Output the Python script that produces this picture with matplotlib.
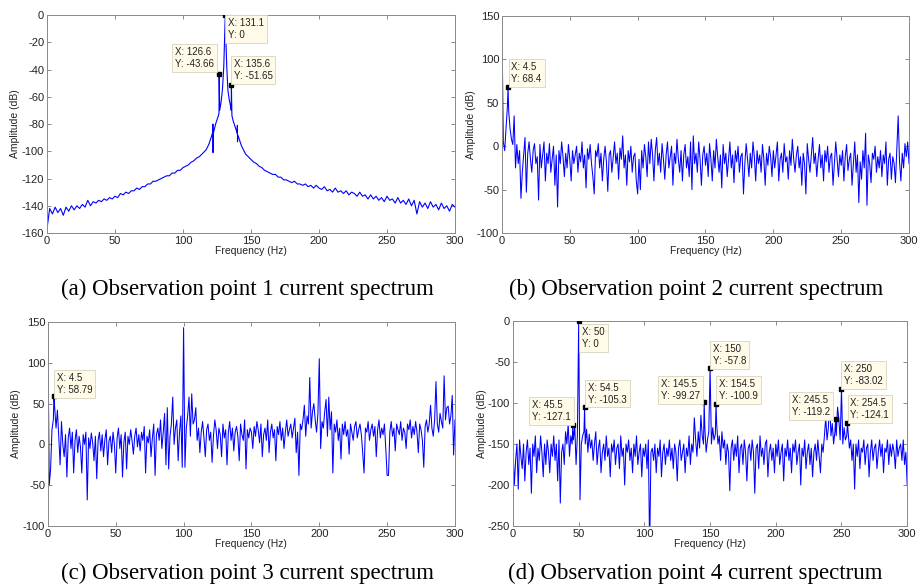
import matplotlib
matplotlib.use("Agg")
import matplotlib.pyplot as plt
import numpy as np

plt.rcParams["font.family"] = ["Liberation Sans", "DejaVu Sans"]
plt.rcParams["axes.unicode_minus"] = False

# ---------------- data ----------------
# (a) observation point 1
freq_a_low = np.arange(0, 117, 2)
amp_a_low = [
    -157, -142, -146, -141, -145, -142, -147, -141, -144, -140,
    -143, -140, -142, -139, -141, -136, -140, -137, -138, -136,
    -137, -135, -136, -134, -135, -133, -134, -131, -132, -130,
    -131, -129, -129, -127, -128, -126, -126, -124, -124, -122,
    -122, -121, -120, -119, -118, -118, -116, -116, -114, -114,
    -112, -111, -110, -108, -107, -105, -104, -102, -100,
]
freq_a_mid = [117, 118, 119, 120, 121, 121.9, 122, 122.1, 122.3, 123, 124, 125, 126,
              126.5, 127, 128, 129, 130, 130.5, 131.6, 132.2, 133, 134, 135, 135.5,
              136, 137, 138, 139, 139.9, 140, 140.1, 140.3, 141, 142, 143, 144]
amp_a_mid = [-99, -97, -95, -92, -89, -86, -80, -101, -87, -84, -80, -77, -74,
             -72, -70, -64, -55, -38, -20, -20, -38, -55, -62, -67, -70,
             -74, -78, -81, -84, -87, -81, -93, -88, -90, -93, -96, -98]
freq_a_high = np.arange(146, 301, 2)
amp_a_high = [
    -102, -104, -106, -108, -109, -111, -112, -114, -115, -116,
    -117, -117, -119, -119, -121, -121, -122, -123, -122, -124,
    -124, -125, -124, -126, -125, -127, -125, -127, -128, -126,
    -129, -128, -130, -127, -130, -129, -131, -129, -132, -130,
    -131, -133, -130, -133, -132, -135, -132, -135, -133, -136,
    -134, -137, -133, -136, -135, -138, -134, -138, -136, -139,
    -135, -140, -136, -146, -137, -141, -138, -142, -137, -141,
    -139, -143, -138, -142, -140, -144, -139, -141,
]
tip_a_f = [126.6, 131.1, 135.6]
tip_a_a = [-43.66, 0, -51.65]

# (b), (c), (d): 1 Hz base grid
freq_bcd = np.arange(0, 301, 1)
amp_b = [
    138, 5, -5, 20, 45, 40, 20, 8, 2, 35,
    -25, 2, -20, -5, -60, -30, -10, 10, -53, -8,
    5, -15, -30, -5, 3, -20, -12, -62, 2, -25,
    -10, 5, -40, -8, -20, 3, -30, -15, 0, -45,
    -10, -70, -5, -20, 5, -12, -35, -8, -25, 2,
    -15, -40, -5, -20, -10, 0, -30, -8, -18, 5,
    -25, -10, -48, -3, -15, 2, -20, -35, -55, -5,
    -12, 3, -25, -8, -40, -15, 0, -18, -52, -10,
    -5, -30, -12, 5, -20, -8, -38, -2, -15, 12,
    -25, -10, -45, -5, -18, 0, -30, -12, -8, -40,
    -55, -15, -50, -5, -25, 2, -12, -35, 5, -20,
    8, -10, -40, -5, 10, -22, -8, -30, 3, -15,
    -38, -10, 5, -25, -12, 0, -45, -8, -20, 8,
    -15, -30, -5, -40, -10, 2, -25, -12, -35, 5,
    -50, 12, -20, -8, -30, 5, -15, -45, -10, 0,
    -22, -8, -35, 3, -15, -40, -5, -25, 8, -12,
    -30, -10, -48, 2, -20, -8, -35, -15, 5, -25,
    -10, -42, -5, -18, 0, -30, -12, -8, -55, -20,
    3, -15, -35, -8, -25, 5, -12, -40, -5, -20,
    -10, -30, 2, -15, -45, -8, -22, 0, -12, -35,
    -5, -25, -10, 5, -40, -15, -8, -30, 3, -18,
    -12, -38, -5, -22, 8, -15, -30, -10, 0, -25,
    -12, -45, -8, -20, -55, 3, -15, -30, -10, 10,
    -20, -8, -35, -15, 2, -25, -10, -40, -5, -18,
    0, -30, -12, -8, -45, -20, 5, -15, -35, -10,
    -22, -5, -40, -12, 2, -28, -15, -8, -45, -20,
    5, -30, -10, -65, -18, -38, -5, -25, 15, -68,
    -10, -20, -42, -8, -15, 0, -30, -12, -25, -5,
    -35, -10, -20, 5, -45, -15, -8, -38, -12, -20,
    -42, -5, 35, -18, -40, -8, -25, 3, -12, 5,
    -20,
]
tip_b_f = [4.5]
tip_b_a = [68.4]

amp_c = [
    138, -50, -30, 18, 30, 45, 20, 42, 10, -25,
    28, 0, -15, 12, -40, 8, 20, -5, 15, -35,
    5, 18, -10, 10, -3, -35, 12, 0, 15, -68,
    8, -5, 14, 2, -20, 10, -42, 5, 15, -8,
    12, -15, 6, 18, -25, 4, 10, -10, 15, 0,
    -35, 8, 20, -5, 12, -40, 3, 15, -30, 10,
    0, 18, 5, -12, 10, 20, -3, 12, -8, 15,
    5, 22, -35, 10, 2, 18, -15, 8, 25, -38,
    12, 20, 5, 30, -5, 15, 38, -25, 45, -30,
    10, 25, 58, 0, 20, 30, -20, 15, 35, -28,
    143, -28, 20, 35, 58, 10, 62, 25, 30, 45,
    5, 20, -10, 15, 28, 8, -15, 18, 25, 5,
    15, -22, 10, 30, 18, -5, 20, 12, -15, 25,
    8, 18, -25, 15, 28, 5, 20, -8, 15, 22,
    10, -20, 25, 12, 5, 30, -30, 18, 8, 20,
    15, -5, 22, 10, 28, 18, 2, 25, -15, 12,
    20, 5, 30, -10, 15, 25, 8, 18, -20, 22,
    12, 28, 5, 20, -5, 15, 30, 10, 18, 25,
    8, 20, 32, -10, 15, -38, 25, 18, 30, 48,
    10, 35, 25, 82, 20, 40, 50, 30, 15, 38,
    105, -5, 28, 20, 40, 55, 10, 58, 18, 40,
    -35, 25, 15, 30, 5, 20, -18, 25, 12, 28,
    10, 18, -12, 25, 15, 5, 22, 28, 8, 18,
    25, 12, -10, -35, 20, 15, 28, 5, 18, 25,
    10, 22, -15, 18, 30, 8, 20, 12, 25, -5,
    -38, -38, 15, 28, 10, 20, -8, 25, 18, 12,
    28, 5, 20, 15, -5, 25, 18, 30, 8, 22,
    12, 28, 15, -10, 25, 18, 5, -28, 22, 30,
    15, 25, 48, 20, 10, 30, 77, 25, 15, 38,
    28, 20, 84, 30, 45, 47, 25, 35, 60, -13,
    30,
]
tip_c_f = [4.5]
tip_c_a = [58.79]

amp_d = [
    -155, -200, -170, -150, -205, -145, -165, -180, -150, -195,
    -160, -145, -175, -155, -210, -150, -165, -140, -185, -155,
    -170, -140, -160, -190, -150, -175, -145, -160, -185, -150,
    -165, -140, -170, -150, -195, -145, -222, -160, -150, -175,
    -135, -150, -125, -165, -140, -150, -145, -128, -175, -140,
    -150, -218, -150, -140, -135, -150, -132, -160, -138, -155,
    -145, -170, -150, -135, -175, -155, -145, -185, -160, -150,
    -170, -140, -165, -155, -190, -150, -160, -145, -175, -155,
    -150, -180, -140, -165, -155, -200, -150, -160, -145, -170,
    -155, -185, -150, -165, -140, -175, -160, -150, -190, -155,
    -165, -150, -180, -145, -280, -160, -155, -170, -150, -185,
    -155, -165, -145, -190, -160, -150, -175, -155, -165, -145,
    -170, -155, -180, -150, -160, -195, -155, -145, -170, -160,
    -150, -185, -155, -165, -140, -175, -150, -160, -118, -145,
    -165, -135, -155, -115, -140, -150, -130, -160, -145, -135,
    -150, -150, -130, -145, -138, -125, -150, -140, -170, -135,
    -155, -145, -175, -150, -160, -207, -155, -145, -170, -150,
    -165, -140, -185, -155, -150, -175, -145, -160, -195, -155,
    -150, -170, -145, -160, -210, -155, -150, -180, -140, -165,
    -155, -175, -150, -145, -190, -160, -150, -170, -155, -185,
    -150, -165, -145, -175, -160, -150, -195, -155, -165, -145,
    -170, -155, -185, -150, -160, -145, -175, -160, -150, -200,
    -155, -165, -145, -180, -160, -150, -175, -155, -190, -160,
    -150, -170, -145, -165, -185, -150, -160, -140, -118, -145,
    -130, -100, -140, -125, -150, -135, -140, -105, -120, -145,
    -150, -150, -130, -145, -140, -135, -155, -145, -170, -150,
    -205, -150, -165, -145, -180, -155, -160, -145, -175, -155,
    -150, -190, -160, -145, -170, -155, -150, -180, -160, -145,
    -165, -150, -185, -155, -160, -145, -175, -150, -165, -150,
    -160, -180, -145, -165, -155, -150, -170, -145, -175, -160,
    -200,
]
tip_d_f = [45.5, 50, 54.5, 145.5, 150, 154.5, 245.5, 250, 254.5]
tip_d_a = [-127.1, 0, -105.3, -99.27, -57.8, -100.9, -119.2, -83.02, -124.1]

captions = [
    "(a) Observation point 1 current spectrum",
    "(b) Observation point 2 current spectrum",
    "(c) Observation point 3 current spectrum",
    "(d) Observation point 4 current spectrum",
]


def merge(base_f, base_a, tip_f, tip_a):
    base_f = np.asarray(base_f, dtype=float)
    base_a = np.asarray(base_a, dtype=float)
    keep = ~np.isin(base_f, tip_f)
    f = np.concatenate([base_f[keep], tip_f])
    a = np.concatenate([base_a[keep], tip_a])
    order = np.argsort(f, kind="stable")
    return f[order], a[order]


def style_axes(ax, ylim, ystep):
    ax.set_xlim(0, 300)
    ax.set_ylim(*ylim)
    ax.set_xticks(np.arange(0, 301, 50))
    ax.set_yticks(np.arange(ylim[0], ylim[1] + 1, ystep))
    ax.tick_params(direction="in", top=True, right=True, length=3, width=0.6,
                   colors="#777777", labelcolor="#222222", labelsize=8, pad=2)
    for s in ax.spines.values():
        s.set_color("#8a8a8a")
        s.set_linewidth(0.7)
    ax.set_xlabel("Frequency (Hz)", fontsize=7.5, color="#222222", labelpad=0)
    ax.set_ylabel("Amplitude (dB)", fontsize=7.5, color="#222222", labelpad=1)


def add_tips(ax, tip_f, tip_a, boxes):
    ax.plot(tip_f, tip_a, "s", color="black", markersize=2.6, zorder=4)
    for (f, a), (bx, by, ha) in zip(zip(tip_f, tip_a), boxes):
        ax.text(bx, by, f"X: {f:g}\nY: {a:g}", ha=ha, va="top", fontsize=7,
                multialignment="left", color="#222222", linespacing=1.25, zorder=5,
                bbox=dict(boxstyle="square,pad=0.3", fc="#fffbe8", ec="#d8d4c0", lw=0.6))


fig = plt.figure(figsize=(9.21, 5.88), dpi=100)

# (a)
fa, aa = merge(np.concatenate([freq_a_low, freq_a_mid, freq_a_high]),
               amp_a_low + amp_a_mid + amp_a_high, tip_a_f, tip_a_a)
ax = fig.add_axes([0.051, 0.6037, 0.443, 0.3708])
ax.plot(fa, aa, color="#0000ff", lw=0.8)
style_axes(ax, (-160, 0), 20)
add_tips(ax, tip_a_f, tip_a_a,
         [(123.0, -23.5, "right"), (133.2, -2.5, "left"), (137.2, -32.0, "left")])

# (b)
fb, ab = merge(freq_bcd, amp_b, tip_b_f, tip_b_a)
ax = fig.add_axes([0.545, 0.6037, 0.442, 0.369])
ax.plot(fb, ab, color="#0000ff", lw=0.75)
style_axes(ax, (-100, 150), 50)
add_tips(ax, tip_b_f, tip_b_a, [(7.0, 97, "left")])

# (c)
fc, ac = merge(freq_bcd, amp_c, tip_c_f, tip_c_a)
ax = fig.add_axes([0.052, 0.1054, 0.442, 0.347])
ax.plot(fc, ac, color="#0000ff", lw=0.75)
style_axes(ax, (-100, 150), 50)
add_tips(ax, tip_c_f, tip_c_a, [(6.5, 87, "left")])

# (d)
fd, ad = merge(freq_bcd, amp_d, tip_d_f, tip_d_a)
ax = fig.add_axes([0.557, 0.1054, 0.428, 0.3486])
ax.plot(fd, ad, color="#0000ff", lw=0.75)
style_axes(ax, (-250, 0), 50)
add_tips(ax, tip_d_f, tip_d_a,
         [(44.0, -96, "right"), (52.5, -7, "left"), (57.0, -75, "left"),
          (142.5, -71, "right"), (152.0, -28, "left"), (156.8, -71, "left"),
          (241.5, -90, "right"), (251.8, -52, "left"), (256.8, -94, "left")])

for txt, (x, y) in zip(captions, [(0.269, 0.507), (0.756, 0.507),
                                  (0.269, 0.025), (0.755, 0.025)]):
    fig.text(x, y, txt, ha="center", va="center", fontsize=16.5,
             family=["Liberation Serif", "DejaVu Serif"])

fig.savefig("out.png", dpi=100)
